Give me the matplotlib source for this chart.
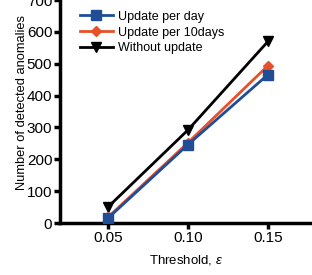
import matplotlib
matplotlib.use("Agg")
from matplotlib import pyplot as plt

thresholds = [0.05, 0.10, 0.15]
per_day = [15, 246, 466]
per_10days = [18, 252, 494]
without_update = [50, 292, 570]

plt.rcParams['font.family'] = ['Liberation Sans', 'DejaVu Sans']
plt.rcParams['mathtext.fontset'] = 'custom'
plt.rcParams['mathtext.it'] = 'Liberation Sans:italic'

fig = plt.figure(figsize=(3.12, 2.75), dpi=100)
ax = fig.add_axes([0.192, 0.189, 0.808, 0.811])

ax.plot(thresholds, per_day, color="#1f4e96", marker="s", markersize=7, linewidth=2, label="Update per day", zorder=4)
ax.plot(thresholds, per_10days, color="#e8502a", marker="D", markersize=5.5, linewidth=2, label="Update per 10days", zorder=3)
ax.plot(thresholds, without_update, color="black", marker="v", markersize=7, linewidth=2, label="Without update", zorder=2)

ax.set_xlim(0.02, 0.1775)
ax.set_ylim(0, 700)
ax.set_xticks([0.05, 0.10, 0.15])
ax.set_xticklabels(["0.05", "0.10", "0.15"])
ax.set_yticks(range(0, 701, 100))

for side in ("top", "right"):
    ax.spines[side].set_visible(False)
for side in ("left", "bottom"):
    ax.spines[side].set_linewidth(2.5)
ax.tick_params(direction="out", width=2.5, length=4, labelsize=11, pad=1.5)

ax.set_xlabel(r"Threshold, $\varepsilon$", fontsize=9.5, labelpad=6)
ax.set_ylabel("Number of detected anomalies", fontsize=9.3)
ax.yaxis.set_label_coords(-0.125, 0.54)

ax.legend(loc="upper left", bbox_to_anchor=(0.05, 0.985), frameon=False, fontsize=9,
          handlelength=2.6, handletextpad=0.4, labelspacing=0.3, borderaxespad=0.2)

fig.savefig("out.png", dpi=100)
